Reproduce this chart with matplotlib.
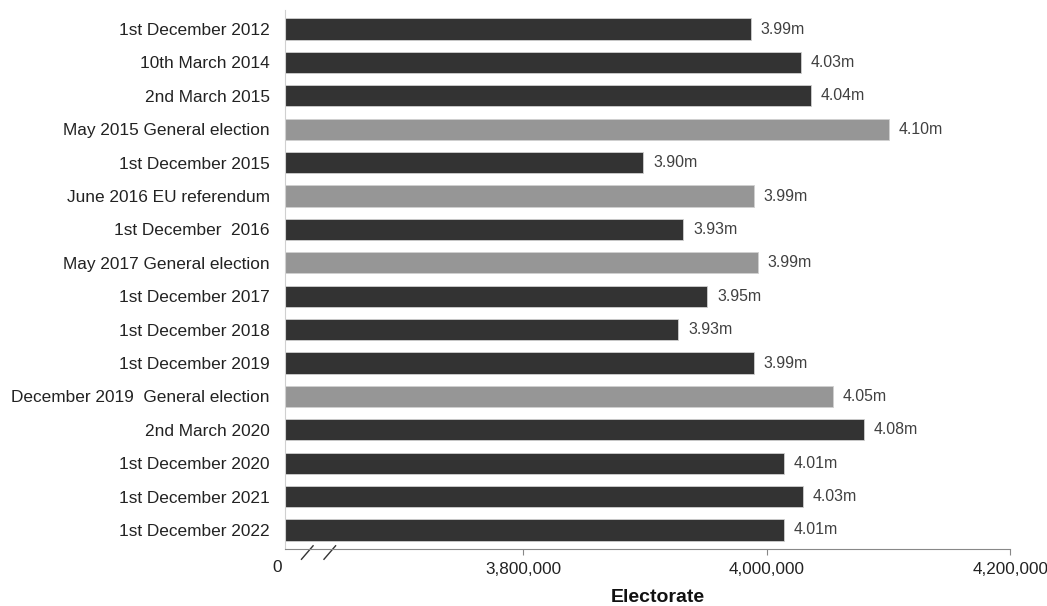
import matplotlib
matplotlib.use("Agg")
import matplotlib.pyplot as plt

plt.rcParams['font.family'] = ['Liberation Sans', 'DejaVu Sans']

# data
labels = ["1st December 2012", "10th March 2014", "2nd March 2015",
          "May 2015 General election", "1st December 2015",
          "June 2016 EU referendum", "1st December  2016",
          "May 2017 General election", "1st December 2017",
          "1st December 2018", "1st December 2019",
          "December 2019  General election", "2nd March 2020",
          "1st December 2020", "1st December 2021", "1st December 2022"]
electorate = [3986800, 4028000, 4036000, 4100400, 3898800, 3989300,
              3931700, 3992600, 3951400, 3927600, 3989300, 4054300,
              4079800, 4014000, 4029600, 4014000]
value_labels = ["3.99m", "4.03m", "4.04m", "4.10m", "3.90m", "3.99m",
                "3.93m", "3.99m", "3.95m", "3.93m", "3.99m", "4.05m",
                "4.08m", "4.01m", "4.03m", "4.01m"]
is_event = [False, False, False, True, False, True, False, True,
            False, False, False, True, False, False, False, False]
xticks = [3800000, 4000000, 4200000]
xticklabels = ["3,800,000", "4,000,000", "4,200,000"]

dark = "#333333"
light = "#969696"

fig = plt.figure(figsize=(10.47, 6.06), dpi=100)
ax = fig.add_axes([0.272, 0.094, 0.693, 0.889])

xmin = 3604500
ypos = list(range(len(labels)))
colors = [light if e else dark for e in is_event]
ax.barh(ypos, [v - xmin for v in electorate], left=xmin, height=0.64,
        color=colors, edgecolor="#d0d0d0", linewidth=0.6)

for y, v, t in zip(ypos, electorate, value_labels):
    ax.annotate(t, (v, y), xytext=(7, 0), textcoords="offset points",
                va="center", ha="left", fontsize=11.4, color="#404040")

ax.set_xlim(xmin, 4200000)
ax.set_ylim(len(labels) - 0.43, -0.56)
ax.set_yticks(ypos)
ax.set_yticklabels(labels, fontsize=12.4, color="#222222")
ax.tick_params(axis="y", length=0, pad=11)
ax.set_xticks(xticks)
ax.set_xticklabels(xticklabels, fontsize=12.3, color="#222222")
ax.tick_params(axis="x", length=4, width=0.8, color="#888888", pad=5.5)

for s in ["top", "right"]:
    ax.spines[s].set_visible(False)
ax.spines["left"].set_color("#d0d0d0")
ax.spines["bottom"].set_color("#888888")

# the "0" at the start of the broken axis and the break marks
ax.text(-0.01, -0.02, "0", transform=ax.transAxes, ha="center", va="top",
        fontsize=12.4, color="#222222")
for x0 in [0.023, 0.054]:
    ax.plot([x0, x0 + 0.016], [-0.019, 0.006], transform=ax.transAxes,
            color="#333333", linewidth=1, clip_on=False)

ax.set_xlabel("Electorate", fontsize=14, fontweight="bold",
              color="#111111")
ax.xaxis.set_label_coords(0.514, -0.074)

fig.savefig("out.png", dpi=100)
